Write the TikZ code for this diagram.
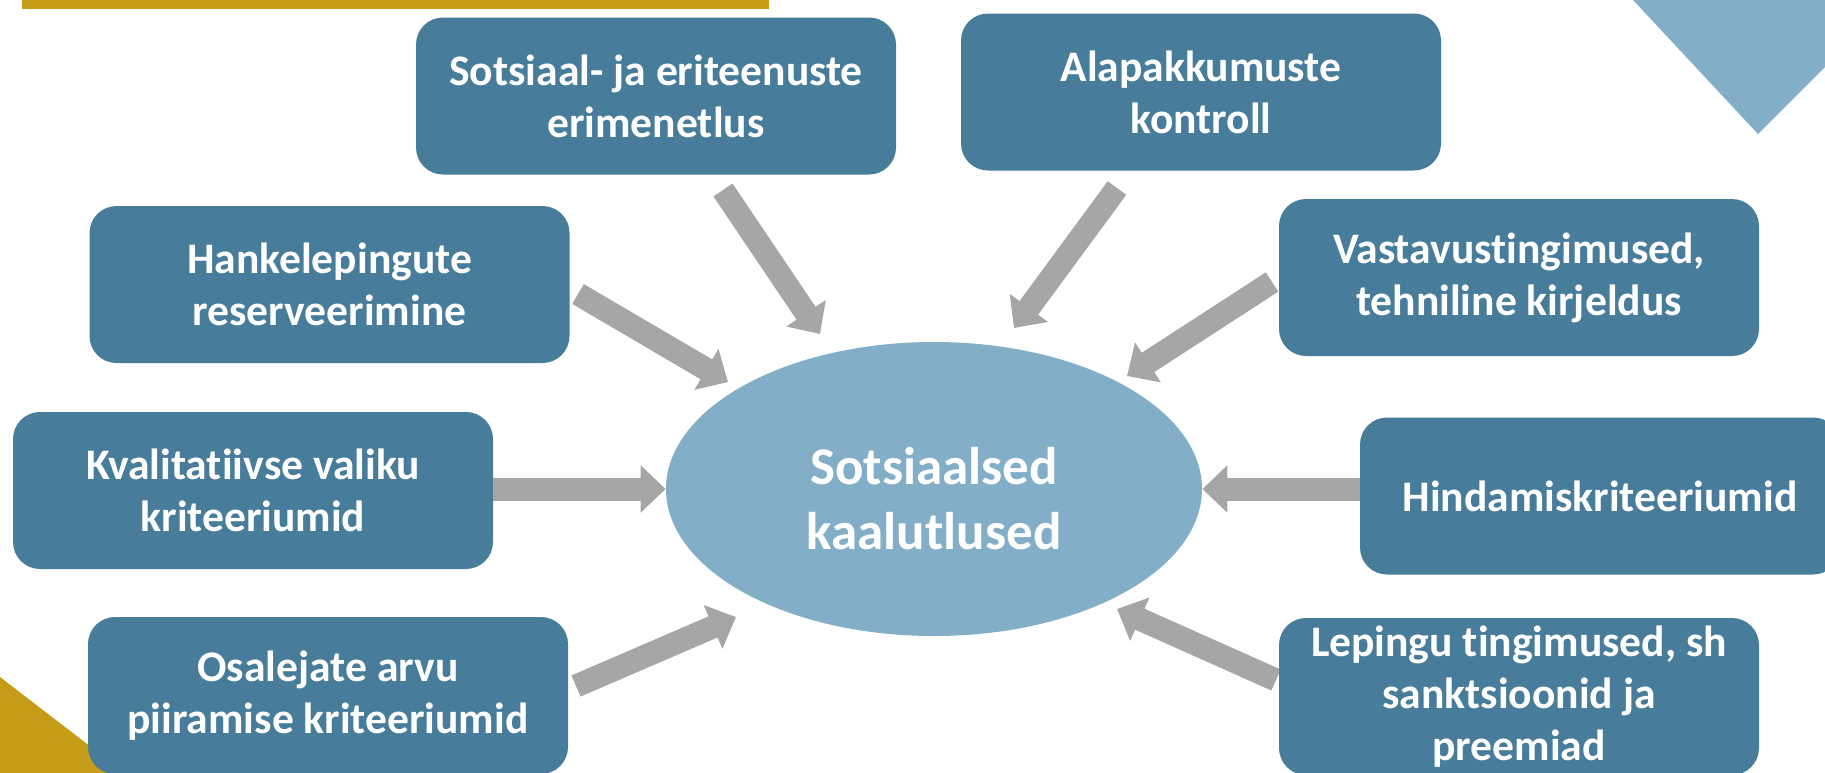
\documentclass[tikz,border=0pt]{standalone}
\usepackage{fontspec}
\setmainfont{Carlito}[Ligatures={NoCommon,NoContextual}]
\usetikzlibrary{shapes.geometric,arrows.meta}
\definecolor{boxblue}{RGB}{72,124,155}
\definecolor{lightblue}{RGB}{130,174,199}
\definecolor{arrowgray}{RGB}{166,166,166}
\definecolor{gold}{RGB}{196,156,23}

\begin{document}
\begin{tikzpicture}[x=0.5pt,y=-0.5pt,
        box/.style={fill=boxblue,rounded corners=13.5pt,minimum width=240pt,minimum height=78.5pt,
            inner sep=0pt,align=center,text=white,font=\fontsize{21.8}{26}\selectfont\bfseries},
        centre/.style={ellipse,fill=lightblue,minimum width=268pt,minimum height=147pt,inner sep=0pt},
        centretext/.style={align=center,text=white,font=\fontsize{26.5}{32.5}\selectfont\bfseries},
        bigarrow/.style={draw=arrowgray,line width=11.5pt,-{Triangle[width=23pt,length=12.5pt]}}]
        \clip (0,0) rectangle (1825,772);
        \begin{scope}
            \fill[gold] (22,0) rectangle (769,9);
            \fill[gold] (0,677) -- (160,800) -- (0,800) -- cycle;
            \fill[lightblue] (1633,0) -- (1758,134) -- (1892,0) -- cycle;
        \end{scope}
        \node[centre] (ell) at (934,489) {};
        \node[centretext] (elltext) at ([yshift=-5pt]ell.center) {Sotsiaalsed\\kaalutlused};
        \coordinate (tailA) at (723,190);  \coordinate (tipA) at (820,334);
        \coordinate (tailB) at (1117,188); \coordinate (tipB) at (1014,328);
        \coordinate (tailC) at (578,294);  \coordinate (tipC) at (728,382);
        \coordinate (tailD) at (1272,282); \coordinate (tipD) at (1127,376);
        \coordinate (tailG) at (576,686);  \coordinate (tipG) at (736,617);
        \coordinate (tailH) at (1276,680); \coordinate (tipH) at (1117,609);
        \begin{scope}
            \draw[bigarrow] (tailA) -- (tipA);
            \draw[bigarrow] (tailB) -- (tipB);
            \draw[bigarrow] (tailC) -- (tipC);
            \draw[bigarrow] (tailD) -- (tipD);
            \draw[bigarrow] (tailG) -- (tipG);
            \draw[bigarrow] (tailH) -- (tipH);
        \end{scope}
        \node[box] (boxA) at (656,96) {Sotsiaal- ja eriteenuste\\erimenetlus};
        \node[box] (boxB) at (1201,92) {Alapakkumuste\\kontroll};
        \node[box] (boxC) at (329.5,284.5) {Hankelepingute\\reserveerimine};
        \node[box] (boxD) at (1519,277.5) {Vastavustingimused,\\tehniline kirjeldus};
        \node[box] (boxE) at (253,490.5) {Kvalitatiivse valiku\\kriteeriumid};
        \node[box] (boxF) at (1600,496) {Hindamiskriteeriumid};
        \node[box] (boxG) at (328,695.5) {Osalejate arvu\\piiramise kriteeriumid};
        \node[box] (boxH) at (1519,696.5) {Lepingu tingimused, sh\\sanktsioonid ja\\preemiad};
        \draw[bigarrow] (boxE.east |- ell.west) -- (ell.west);
        \draw[bigarrow] (boxF.west |- ell.east) -- (ell.east);
    \end{tikzpicture}
\end{document}
